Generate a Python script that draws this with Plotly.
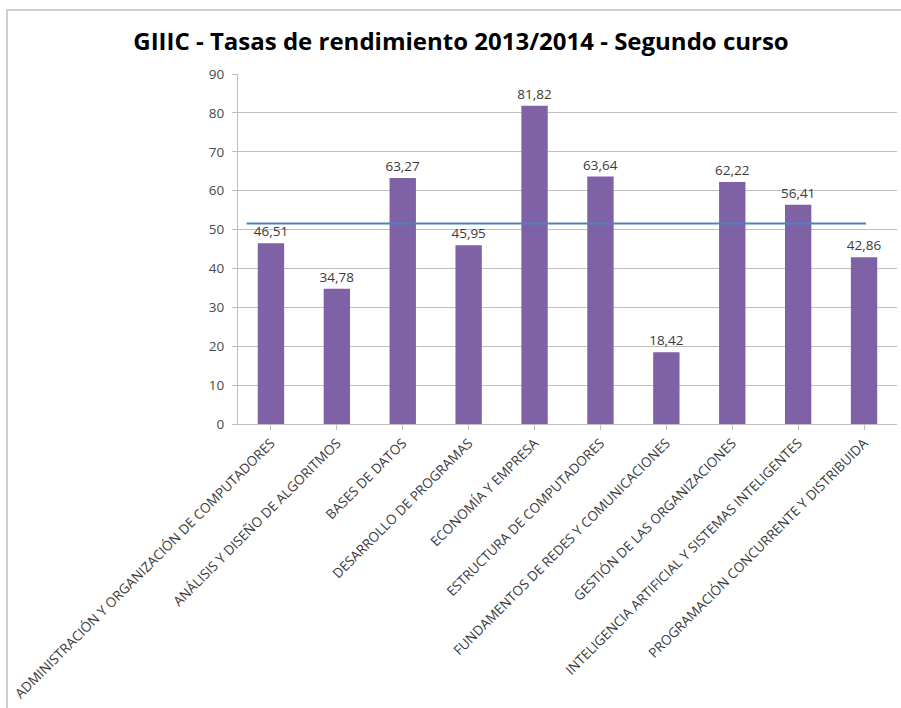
import plotly.graph_objects as go

# Asignaturas de segundo curso y su tasa de rendimiento (%)
asignaturas = [
    "ADMINISTRACIÓN Y ORGANIZACIÓN DE COMPUTADORES",
    "ANÁLISIS Y DISEÑO DE ALGORITMOS",
    "BASES DE DATOS",
    "DESARROLLO DE PROGRAMAS",
    "ECONOMÍA Y EMPRESA",
    "ESTRUCTURA DE COMPUTADORES",
    "FUNDAMENTOS DE REDES Y COMUNICACIONES",
    "GESTIÓN DE LAS ORGANIZACIONES",
    "INTELIGENCIA ARTIFICIAL Y SISTEMAS INTELIGENTES",
    "PROGRAMACIÓN CONCURRENTE Y DISTRIBUIDA",
]
tasas = [46.51, 34.78, 63.27, 45.95, 81.82, 63.64, 18.42, 62.22, 56.41, 42.86]
y_ticks = [0, 10, 20, 30, 40, 50, 60, 70, 80, 90]

media = sum(tasas) / len(tasas)
etiquetas = [f"{v:.2f}".replace(".", ",") for v in tasas]

W, H = 901, 708
ML, MR, MT, MB = 238, 4, 74, 284

fig = go.Figure()
fig.add_trace(go.Bar(
    x=list(range(len(asignaturas))),
    y=tasas,
    marker=dict(color="#7F62A6", line=dict(width=0)),
    width=0.4,
    text=etiquetas,
    textposition="outside",
    constraintext="none",
    textfont=dict(family="Open Sans", size=13.5, color="#3A3A3A"),
    cliponaxis=False,
))

# Línea de la media de todas las asignaturas
fig.add_shape(type="line", xref="x", yref="y",
              x0=-0.37, x1=9.03, y0=media, y1=media,
              line=dict(color="#4F81BD", width=2))

# Marco exterior del gráfico
pw = W - ML - MR
ph = H - MT - MB
fig.add_shape(type="rect", xref="paper", yref="paper",
              x0=(7 - ML) / pw, x1=(W + 20 - ML) / pw,
              y0=-(H + 20 - MT - ph) / ph, y1=(MT - 10) / ph + 1,
              line=dict(color="#BFBFBF", width=1.5), layer="below")

fig.update_layout(
    width=W, height=H,
    margin=dict(l=ML, r=MR, t=MT, b=MB),
    paper_bgcolor="white", plot_bgcolor="white",
    showlegend=False,
    bargap=0.6,
    title=dict(
        text="<b>GIIIC - Tasas de rendimiento 2013/2014 - Segundo curso</b>",
        x=461 / W, xanchor="center", y=1 - 42 / H, yanchor="middle",
        font=dict(family="Open Sans", size=24, color="#000000"),
    ),
    xaxis=dict(
        tickmode="array",
        tickvals=list(range(len(asignaturas))),
        ticktext=asignaturas,
        tickangle=-45,
        tickfont=dict(family="Open Sans", size=13.5, color="#3A3A3A"),
        range=[-0.5, len(asignaturas) - 0.5],
        showline=True, linecolor="#BFBFBF", linewidth=1,
        ticks="outside", tickson="boundaries", ticklen=5, tickcolor="#BFBFBF",
        showgrid=False, zeroline=False,
    ),
    yaxis=dict(
        range=[0, 90],
        tickmode="array", tickvals=y_ticks,
        tickfont=dict(family="Open Sans", size=13.5, color="#4A4A4A"),
        ticklabelstandoff=5,
        showline=True, linecolor="#BFBFBF", linewidth=1,
        ticks="outside", ticklen=5, tickcolor="#BFBFBF",
        showgrid=True, gridcolor="#BFBFBF", gridwidth=1,
        zeroline=False,
    ),
)

fig.write_html("out.html")
